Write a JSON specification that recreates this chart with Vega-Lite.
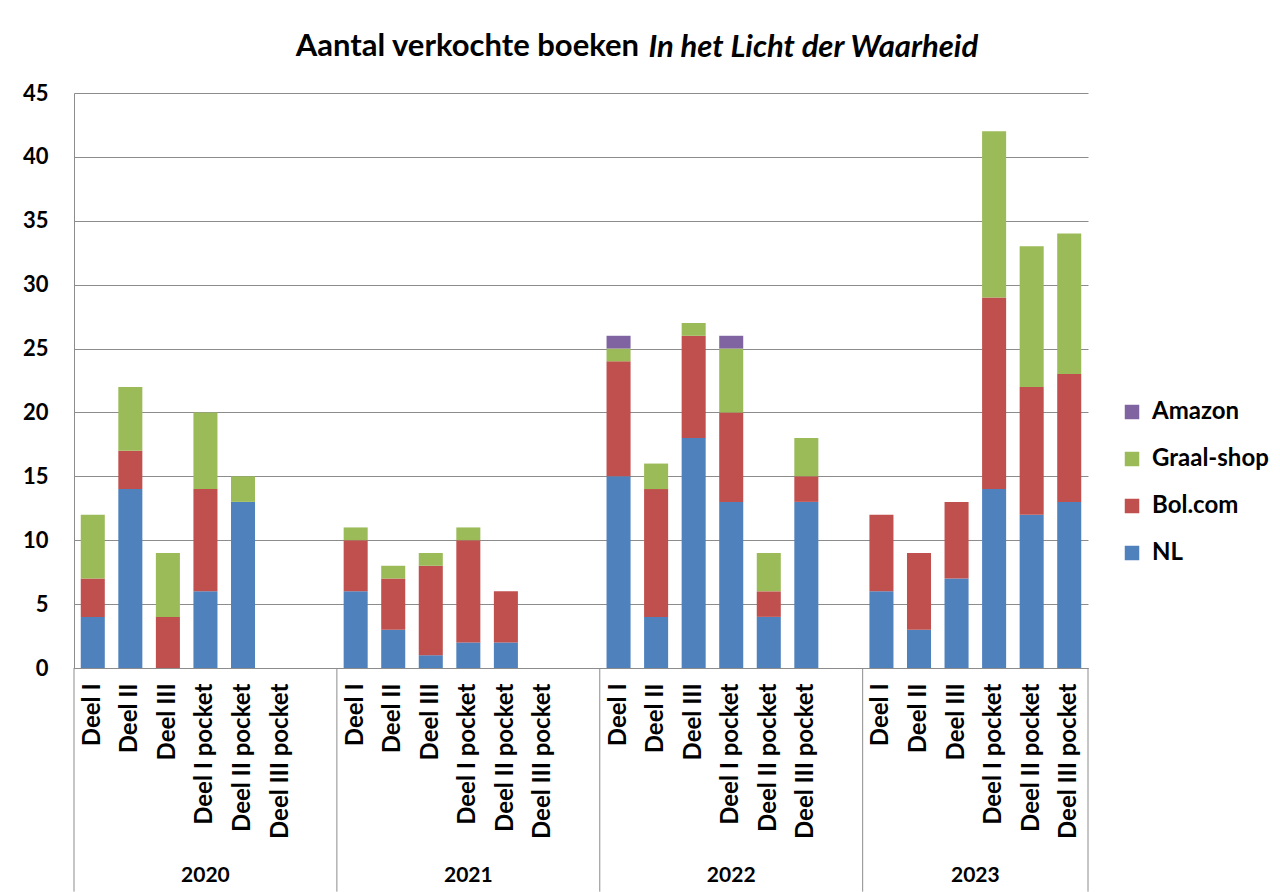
{
  "$schema": "https://vega.github.io/schema/vega-lite/v6.json",
  "width": 1014,
  "height": 575,
  "autosize": {"type": "none"},
  "padding": {"left": 74, "top": 93, "right": 192, "bottom": 224},
  "background": "white",
  "config": {"font": "Lato", "view": {"stroke": null}},
  "title": {
    "text": "Aantal verkochte boeken",
    "anchor": "end",
    "frame": "group",
    "dx": -449,
    "offset": -32,
    "fontSize": 31,
    "fontWeight": "bold",
    "color": "black",
    "font": "Lato"
  },
  "datasets": {
    "series": [
      {"s": "NL", "o": 1},
      {"s": "Bol.com", "o": 2},
      {"s": "Graal-shop", "o": 3},
      {"s": "Amazon", "o": 4}
    ],
    "sales": [
      {"k": "2020|Deel I", "s": "NL", "v": 4},
      {"k": "2020|Deel I", "s": "Bol.com", "v": 3},
      {"k": "2020|Deel I", "s": "Graal-shop", "v": 5},
      {"k": "2020|Deel II", "s": "NL", "v": 14},
      {"k": "2020|Deel II", "s": "Bol.com", "v": 3},
      {"k": "2020|Deel II", "s": "Graal-shop", "v": 5},
      {"k": "2020|Deel III", "s": "Bol.com", "v": 4},
      {"k": "2020|Deel III", "s": "Graal-shop", "v": 5},
      {"k": "2020|Deel I pocket", "s": "NL", "v": 6},
      {"k": "2020|Deel I pocket", "s": "Bol.com", "v": 8},
      {"k": "2020|Deel I pocket", "s": "Graal-shop", "v": 6},
      {"k": "2020|Deel II pocket", "s": "NL", "v": 13},
      {"k": "2020|Deel II pocket", "s": "Graal-shop", "v": 2},
      {"k": "2021|Deel I", "s": "NL", "v": 6},
      {"k": "2021|Deel I", "s": "Bol.com", "v": 4},
      {"k": "2021|Deel I", "s": "Graal-shop", "v": 1},
      {"k": "2021|Deel II", "s": "NL", "v": 3},
      {"k": "2021|Deel II", "s": "Bol.com", "v": 4},
      {"k": "2021|Deel II", "s": "Graal-shop", "v": 1},
      {"k": "2021|Deel III", "s": "NL", "v": 1},
      {"k": "2021|Deel III", "s": "Bol.com", "v": 7},
      {"k": "2021|Deel III", "s": "Graal-shop", "v": 1},
      {"k": "2021|Deel I pocket", "s": "NL", "v": 2},
      {"k": "2021|Deel I pocket", "s": "Bol.com", "v": 8},
      {"k": "2021|Deel I pocket", "s": "Graal-shop", "v": 1},
      {"k": "2021|Deel II pocket", "s": "NL", "v": 2},
      {"k": "2021|Deel II pocket", "s": "Bol.com", "v": 4},
      {"k": "2022|Deel I", "s": "NL", "v": 15},
      {"k": "2022|Deel I", "s": "Bol.com", "v": 9},
      {"k": "2022|Deel I", "s": "Graal-shop", "v": 1},
      {"k": "2022|Deel I", "s": "Amazon", "v": 1},
      {"k": "2022|Deel II", "s": "NL", "v": 4},
      {"k": "2022|Deel II", "s": "Bol.com", "v": 10},
      {"k": "2022|Deel II", "s": "Graal-shop", "v": 2},
      {"k": "2022|Deel III", "s": "NL", "v": 18},
      {"k": "2022|Deel III", "s": "Bol.com", "v": 8},
      {"k": "2022|Deel III", "s": "Graal-shop", "v": 1},
      {"k": "2022|Deel I pocket", "s": "NL", "v": 13},
      {"k": "2022|Deel I pocket", "s": "Bol.com", "v": 7},
      {"k": "2022|Deel I pocket", "s": "Graal-shop", "v": 5},
      {"k": "2022|Deel I pocket", "s": "Amazon", "v": 1},
      {"k": "2022|Deel II pocket", "s": "NL", "v": 4},
      {"k": "2022|Deel II pocket", "s": "Bol.com", "v": 2},
      {"k": "2022|Deel II pocket", "s": "Graal-shop", "v": 3},
      {"k": "2022|Deel III pocket", "s": "NL", "v": 13},
      {"k": "2022|Deel III pocket", "s": "Bol.com", "v": 2},
      {"k": "2022|Deel III pocket", "s": "Graal-shop", "v": 3},
      {"k": "2023|Deel I", "s": "NL", "v": 6},
      {"k": "2023|Deel I", "s": "Bol.com", "v": 6},
      {"k": "2023|Deel II", "s": "NL", "v": 3},
      {"k": "2023|Deel II", "s": "Bol.com", "v": 6},
      {"k": "2023|Deel III", "s": "NL", "v": 7},
      {"k": "2023|Deel III", "s": "Bol.com", "v": 6},
      {"k": "2023|Deel I pocket", "s": "NL", "v": 14},
      {"k": "2023|Deel I pocket", "s": "Bol.com", "v": 15},
      {"k": "2023|Deel I pocket", "s": "Graal-shop", "v": 13},
      {"k": "2023|Deel II pocket", "s": "NL", "v": 12},
      {"k": "2023|Deel II pocket", "s": "Bol.com", "v": 10},
      {"k": "2023|Deel II pocket", "s": "Graal-shop", "v": 11},
      {"k": "2023|Deel III pocket", "s": "NL", "v": 13},
      {"k": "2023|Deel III pocket", "s": "Bol.com", "v": 10},
      {"k": "2023|Deel III pocket", "s": "Graal-shop", "v": 11}
    ],
    "edges": [
      {"edge": 0}, {"edge": 7}, {"edge": 14}, {"edge": 21}, {"edge": 27}
    ],
    "years": [
      {"year": "2020", "mid": 3.5},
      {"year": "2021", "mid": 10.5},
      {"year": "2022", "mid": 17.5},
      {"year": "2023", "mid": 24}
    ]
  },
  "layer": [
    {
      "data": {"name": "sales"},
      "transform": [
        {"lookup": "s", "from": {"data": {"name": "series"}, "key": "s", "fields": ["o"]}}
      ],
      "mark": {"type": "bar"},
      "encoding": {
        "x": {
          "field": "k",
          "type": "nominal",
          "sort": null,
          "scale": {
            "domain": [
              "2020|Deel I", "2020|Deel II", "2020|Deel III", "2020|Deel I pocket", "2020|Deel II pocket", "2020|Deel III pocket", "2020|gap",
              "2021|Deel I", "2021|Deel II", "2021|Deel III", "2021|Deel I pocket", "2021|Deel II pocket", "2021|Deel III pocket", "2021|gap",
              "2022|Deel I", "2022|Deel II", "2022|Deel III", "2022|Deel I pocket", "2022|Deel II pocket", "2022|Deel III pocket", "2022|gap",
              "2023|Deel I", "2023|Deel II", "2023|Deel III", "2023|Deel I pocket", "2023|Deel II pocket", "2023|Deel III pocket"
            ],
            "paddingInner": 0.36,
            "paddingOuter": 0.18
          },
          "axis": {
            "orient": "bottom",
            "title": null,
            "labelAngle": -90,
            "labelAlign": "right",
            "labelBaseline": "middle",
            "labelFontSize": 24,
            "labelFontWeight": "bold",
            "labelColor": "black",
            "labelPadding": 15,
            "labelLimit": 300,
            "ticks": false,
            "grid": false,
            "domainColor": "#8c8c8c",
            "labelExpr": "indexof(datum.value, 'gap') >= 0 ? '' : split(datum.value, '|')[1]"
          }
        },
        "y": {
          "field": "v",
          "type": "quantitative",
          "stack": "zero",
          "scale": {"domain": [0, 45], "nice": false},
          "axis": {
            "title": null,
            "values": [0, 5, 10, 15, 20, 25, 30, 35, 40, 45],
            "grid": true,
            "gridColor": "#8c8c8c",
            "domainColor": "#8c8c8c",
            "ticks": false,
            "labelFontSize": 22,
            "labelFontWeight": "bold",
            "labelColor": "black",
            "labelPadding": 26
          }
        },
        "order": {"field": "o", "type": "quantitative", "sort": "ascending"},
        "color": {
          "field": "s",
          "type": "nominal",
          "scale": {
            "domain": ["NL", "Bol.com", "Graal-shop", "Amazon"],
            "range": ["#4F81BD", "#C0504D", "#9BBB59", "#8064A2"]
          },
          "legend": {
            "orient": "none",
            "legendX": 1046,
            "legendY": 307,
            "title": null,
            "values": ["Amazon", "Graal-shop", "Bol.com", "NL"],
            "symbolType": "square",
            "symbolSize": 210,
            "symbolStrokeWidth": 0,
            "labelFontSize": 24,
            "labelFontWeight": "bold",
            "labelColor": "black",
            "labelOffset": 8,
            "rowPadding": 23
          }
        }
      }
    },
    {
      "data": {"name": "edges"},
      "mark": {"type": "rule", "color": "#8c8c8c", "strokeWidth": 1},
      "encoding": {
        "x": {
          "field": "edge",
          "type": "quantitative",
          "scale": {"domain": [0, 27], "nice": false, "zero": false},
          "axis": {
            "orient": "top",
            "domain": false,
            "ticks": false,
            "labels": false,
            "grid": false,
            "title": "In het Licht der Waarheid",
            "titleFont": "Lato",
            "titleFontStyle": "italic",
            "titleFontSize": 31,
            "titleFontWeight": "bold",
            "titleColor": "black",
            "titleAnchor": "start",
            "titleAlign": "left",
            "titleBaseline": "alphabetic",
            "titleX": 574,
            "titleY": -37
          }
        },
        "y": {"datum": 0, "type": "quantitative", "scale": {"domain": [0, 45], "nice": false}},
        "y2": {"datum": -17.5}
      }
    },
    {
      "data": {"name": "years"},
      "mark": {"type": "text", "fontSize": 21, "fontWeight": "bold", "color": "black", "baseline": "middle", "align": "center"},
      "encoding": {
        "x": {
          "field": "mid",
          "type": "quantitative",
          "scale": {"domain": [0, 27], "nice": false, "zero": false},
          "axis": null
        },
        "y": {"datum": -16.3, "type": "quantitative", "scale": {"domain": [0, 45], "nice": false}},
        "text": {"field": "year"}
      }
    }
  ],
  "resolve": {"scale": {"x": "independent"}}
}
